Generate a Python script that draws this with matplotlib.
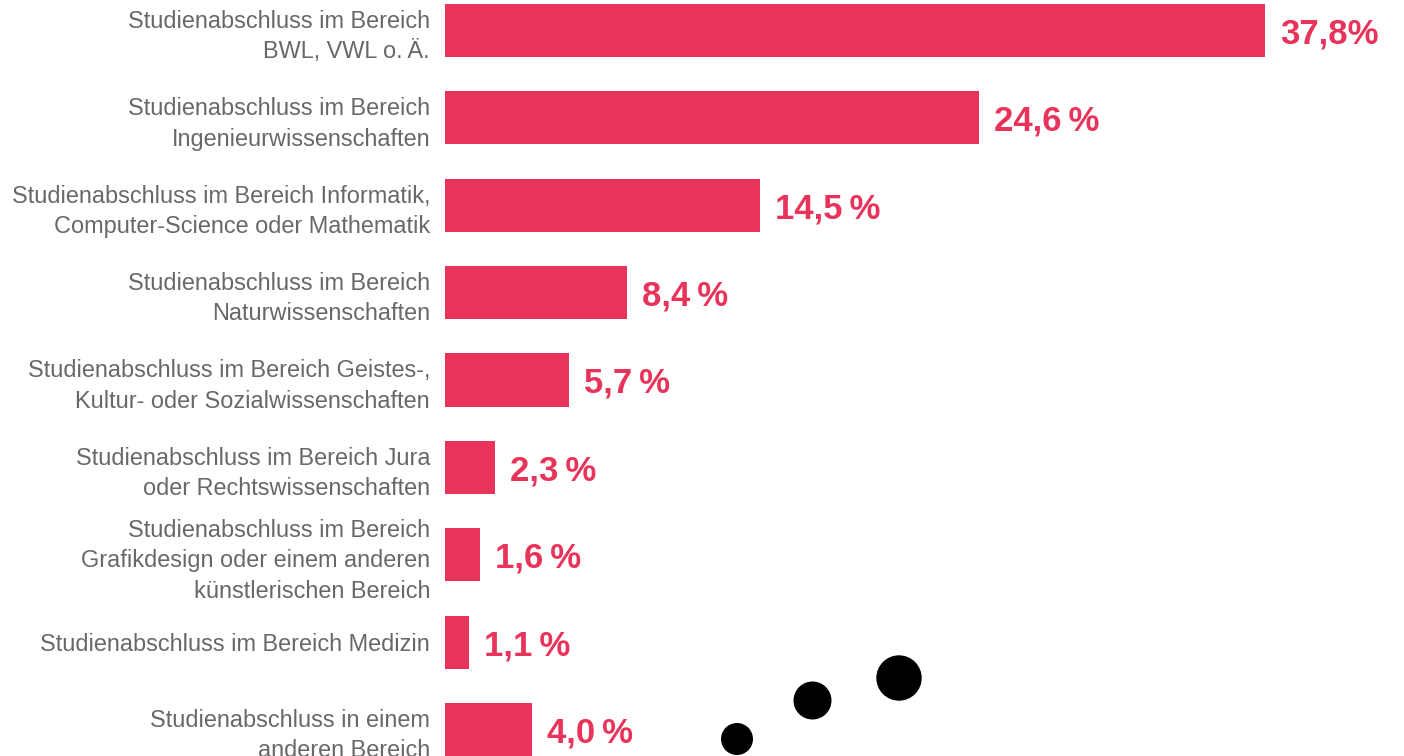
import matplotlib
matplotlib.use("Agg")
import matplotlib.pyplot as plt
from matplotlib.patches import Circle

plt.rcParams['font.family'] = ['Liberation Sans', 'DejaVu Sans']

categories = [
    "Studienabschluss im Bereich\nBWL, VWL o.\u2009Ä.",
    "Studienabschluss im Bereich\nIngenieurwissenschaften",
    "Studienabschluss im Bereich Informatik,\nComputer-Science oder Mathematik",
    "Studienabschluss im Bereich\nNaturwissenschaften",
    "Studienabschluss im Bereich Geistes-,\nKultur- oder Sozialwissenschaften",
    "Studienabschluss im Bereich Jura\noder Rechtswissenschaften",
    "Studienabschluss im Bereich\nGrafikdesign oder einem anderen\nkünstlerischen Bereich",
    "Studienabschluss im Bereich Medizin",
    "Studienabschluss in einem\nanderen Bereich",
]
values = [37.8, 24.6, 14.5, 8.4, 5.7, 2.3, 1.6, 1.1, 4.0]
value_labels = ["37,8%", "24,6\u2009%", "14,5\u2009%", "8,4\u2009%", "5,7\u2009%",
                "2,3\u2009%", "1,6\u2009%", "1,1\u2009%", "4,0\u2009%"]

bar_color = "#E8345A"
label_color = "#686868"

W, H = 1404, 756
fig = plt.figure(figsize=(W / 100, H / 100), dpi=100)
# axes from x=445px to right edge, full height
ax = fig.add_axes([445 / W, 0, 1 - 445 / W, 1])

pos = list(range(len(values)))
ax.barh(pos, values, height=0.607, color=bar_color)

ax.set_xlim(0, (W - 445) / 21.69)
ax.set_ylim(8 + 26.5 / 87.375, -30.5 / 87.375)

ax.set_yticks(pos)
ax.set_yticklabels(categories, fontsize=16.9, color=label_color, linespacing=1.40)
ax.tick_params(axis='y', length=0, pad=10.8)
ax.set_xticks([])
for s in ax.spines.values():
    s.set_visible(False)

for p, v, t in zip(pos, values, value_labels):
    ax.annotate(t, (v, p), xytext=(11, -2.5), textcoords='offset points',
                va='center', ha='left', fontsize=25, fontweight='bold',
                color=bar_color)

# decorative dots (figure pixel coords)
dots = [(737, 739, 15.3), (812.5, 700.5, 18.3), (899, 678, 22)]
for x, y, r in dots:
    fig.patches.append(Circle((x, H - y), r, transform=None, color='black'))

fig.savefig("out.png", dpi=100)
